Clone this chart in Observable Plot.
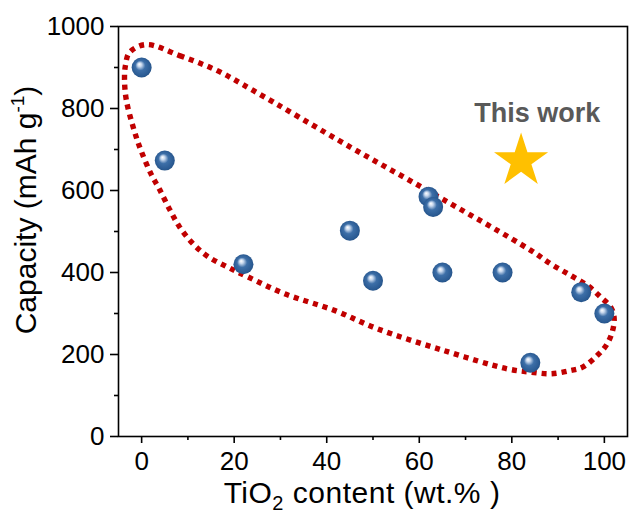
<!DOCTYPE html>
<html><head><meta charset="utf-8">
<script src="https://cdn.jsdelivr.net/npm/d3@7"></script>
<script src="https://cdn.jsdelivr.net/npm/@observablehq/plot@0.6"></script>
<style>html,body{margin:0;padding:0;background:#fff;}</style>
</head><body><div id="chart"></div>
<script>
// Data
const tio2 = [0, 5, 22, 45, 50, 62, 63, 65, 78, 84, 95, 100];
const capacity = [900, 673, 420, 502, 380, 585, 560, 400, 400, 180, 352, 300];
const thisWorkX = [82];
const thisWorkY = [672];
const noteText = ["This work"];
const noteX = [85.5];
const noteY = [789];
// Hand-drawn dotted outline around literature points
const outlineX = [1.0, 8.2, 16.2, 24.1, 45.1, 62.4, 84.1, 88.4, 92.7, 96.4, 99.2, 101.4, 102.1, 101.8, 100.5, 98.5, 95.3, 92.7, 88.4, 84.1, 79.0, 65.2, 50.9, 41.8, 30.9, 23.0, 18.6, 14.3, 11.1, 8.2, 6.0, 3.8, 2.0, -0.15, -1.6, -3.3, -3.7, -3.5, -2.6];
const outlineY = [956, 929, 893, 844, 706, 596, 454, 421, 393, 368, 340, 315, 291, 259, 224, 198, 169, 161, 153, 157, 165, 210, 263, 307, 348, 389, 413, 439, 470, 511, 555, 604, 641, 698, 746, 820, 870, 905, 937];
const xTicks = [0, 20, 40, 60, 80, 100];
const xMinor = [10, 30, 50, 70, 90];
const yTicks = [0, 200, 400, 600, 800, 1000];
const yMinor = [100, 300, 500, 700, 900];

const points = tio2.map((x, i) => ({x, y: capacity[i]}));
const star = thisWorkX.map((x, i) => ({x, y: thisWorkY[i]}));
const note = noteText.map((t, i) => ({t, x: noteX[i], y: noteY[i]}));
const outline = outlineX.map((x, i) => ({x, y: outlineY[i]}));

const font = "'Liberation Sans', Arial, sans-serif";

const chart = Plot.plot({
  width: 631,
  height: 517,
  marginLeft: 118,
  marginTop: 26,
  marginRight: 4,
  marginBottom: 81,
  style: {fontFamily: font, fontSize: "26px", color: "#000", background: "#fff"},
  x: {domain: [-5, 105]},
  y: {domain: [0, 1000]},
  marks: [
    Plot.line(outline, {x: "x", y: "y", curve: "catmull-rom-closed", stroke: "#C00000", strokeWidth: 5.4, strokeDasharray: "5,5", strokeLinecap: "butt", strokeLinejoin: "miter"}),
    Plot.dot(points, {x: "x", y: "y", r: 10, fill: "url(#ballGrad)", stroke: "none"}),
    Plot.dot(star, {x: "x", y: "y", symbol: "star", r: 17, fill: "#FFC000", stroke: "none"}),
    Plot.text(note, {x: "x", y: "y", text: "t", fontSize: 27, fontWeight: "bold", fill: "#595959", fontFamily: font}),
    Plot.frame({stroke: "#000", strokeWidth: 1.6}),
    Plot.axisX(xTicks, {tickSize: 7, tickPadding: 8, label: null, strokeWidth: 1.6, fontSize: 26, tickFormat: d3.format("d")}),
    Plot.axisX(xMinor, {tickSize: 4, tickFormat: () => "", label: null, strokeWidth: 1.6}),
    Plot.axisY(yTicks, {tickSize: 8, tickPadding: 6, label: null, strokeWidth: 1.6, fontSize: 26, tickFormat: d3.format("d")}),
    Plot.axisY(yMinor, {tickSize: 4, tickFormat: () => "", label: null, strokeWidth: 1.6})
  ]
});

const svg = d3.select(chart);
const defs = svg.insert("defs", ":first-child");
const g = defs.append("radialGradient").attr("id", "ballGrad")
  .attr("cx", "0.5").attr("cy", "0.5").attr("r", "0.55").attr("fx", "0.38").attr("fy", "0.33");
g.append("stop").attr("offset", "0%").attr("stop-color", "#ffffff");
g.append("stop").attr("offset", "18%").attr("stop-color", "#c9d9ee");
g.append("stop").attr("offset", "45%").attr("stop-color", "#3d6fa8");
g.append("stop").attr("offset", "85%").attr("stop-color", "#2a5a92");
g.append("stop").attr("offset", "100%").attr("stop-color", "#1f4a7c");

// Axis titles with sub/superscripts
const xl = svg.append("text").attr("x", 362).attr("y", 503)
  .attr("text-anchor", "middle").attr("font-family", font).attr("font-size", 30)
  .attr("letter-spacing", "0.5px").attr("fill", "#000");
xl.append("tspan").text("TiO");
xl.append("tspan").attr("font-size", 20).attr("dy", 7).text("2");
xl.append("tspan").attr("dy", -7).text(" content (wt.% )");

const yl = svg.append("text").attr("transform", "translate(36,210) rotate(-90)")
  .attr("text-anchor", "middle").attr("font-family", font).attr("font-size", 30).attr("fill", "#000");
yl.append("tspan").text("Capacity (mAh g");
yl.append("tspan").attr("font-size", 19).attr("dy", -12).text("-1");
yl.append("tspan").attr("dy", 12).text(")");

document.getElementById("chart").appendChild(chart);
</script>
</body></html>
